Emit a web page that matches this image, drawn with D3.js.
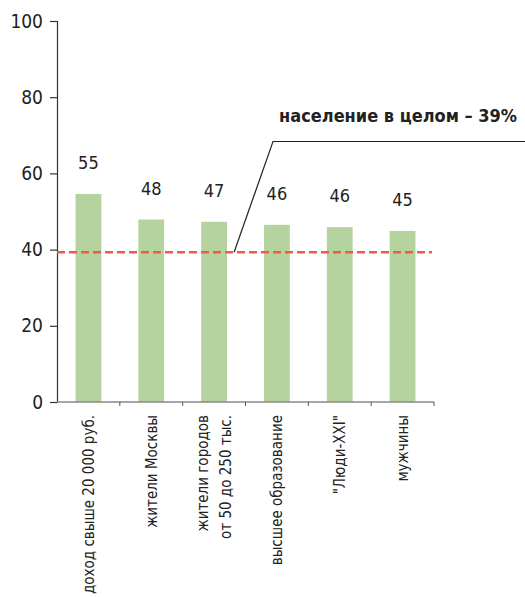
<!DOCTYPE html>
<html><head><meta charset="utf-8">
<script src="https://cdn.jsdelivr.net/npm/d3@7"></script>
<style>
body{margin:0;background:#fff;}
text{font-family:"DejaVu Sans Condensed","Roboto",sans-serif;fill:#222;}
</style></head><body>
<svg id="c" width="525" height="597"></svg>
<script>
const categories = [["доход свыше 20 000 руб."],["жители Москвы"],["жители городов","от 50 до 250 тыс."],["высшее образование"],["\"Люди-XXI\""],["мужчины"]];
const values = [54.6, 47.9, 47.3, 46.5, 45.9, 44.9];
const valueLabels = ["55","48","47","46","46","45"];
const yTicks = [0,20,40,60,80,100];
const average = 39.3;
const annotation = "население в целом – 39%";

const svg = d3.select("#c");
const y = d3.scaleLinear().domain([0,100]).range([402,21]);
const x = d3.scaleBand().domain(d3.range(categories.length)).range([57,434]).padding(0);
const barW = x.bandwidth()*0.41;

// y axis
const ya = svg.append("g").attr("transform","translate(57,0)")
  .call(d3.axisLeft(y).tickValues(yTicks).tickSize(7).tickPadding(7));
ya.select(".domain").attr("stroke","#333").attr("stroke-width",1.2);
ya.selectAll(".tick line").attr("stroke","#333").attr("stroke-width",1.2);
ya.selectAll(".tick text").attr("font-size",19).style("font-family","'DejaVu Sans Condensed',sans-serif").attr("fill","#222");

// bars
svg.append("g").selectAll("rect").data(values).join("rect")
  .attr("x",(d,i)=>x(i)+x.bandwidth()/2-barW/2)
  .attr("width",barW)
  .attr("y",d=>y(d))
  .attr("height",d=>y(0)-y(d))
  .attr("fill","#b5d39e");

// x axis
const xa = svg.append("g").attr("transform","translate(0,402)");
xa.append("line").attr("x1",57).attr("x2",434).attr("stroke","#888").attr("stroke-width",1.5);
xa.selectAll("line.t").data(d3.range(1,categories.length+1)).join("line").attr("class","t")
  .attr("x1",i=>x(i-1)+x.bandwidth()).attr("x2",i=>x(i-1)+x.bandwidth())
  .attr("y1",0).attr("y2",4).attr("stroke","#555").attr("stroke-width",1);

// value labels
svg.append("g").selectAll("text").data(values).join("text")
  .attr("x",(d,i)=>x(i)+x.bandwidth()/2)
  .attr("y",d=>y(d)-25)
  .attr("text-anchor","middle")
  .attr("font-size",18)
  .text((d,i)=>valueLabels[i]);

// category labels rotated
const cl = svg.append("g");
categories.forEach((lines,i)=>{
  const cx = x(i)+x.bandwidth()/2;
  const n = lines.length;
  lines.forEach((t,j)=>{
    const off = (j-(n-1)/2)*23;
    cl.append("text")
      .attr("transform",`translate(${cx+off+5.5},415) rotate(-90)`)
      .attr("text-anchor","end")
      .attr("font-size",15)
      .text(t);
  });
});

// average dashed line
svg.append("line").attr("x1",57).attr("x2",432)
  .attr("y1",y(average)).attr("y2",y(average))
  .attr("stroke","#ee5b4b").attr("stroke-width",2.6).attr("stroke-dasharray","8,4");

// leader line
svg.append("path")
  .attr("d",`M${x(2)+x.bandwidth()/2+20},${y(average)} L273,141.5 L525,141.5`)
  .attr("fill","none").attr("stroke","#222").attr("stroke-width",1.2);

svg.append("text").attr("x",517).attr("y",122).attr("text-anchor","end")
  .attr("font-size",18).attr("font-weight","bold")
  .text(annotation);
</script>
</body></html>
